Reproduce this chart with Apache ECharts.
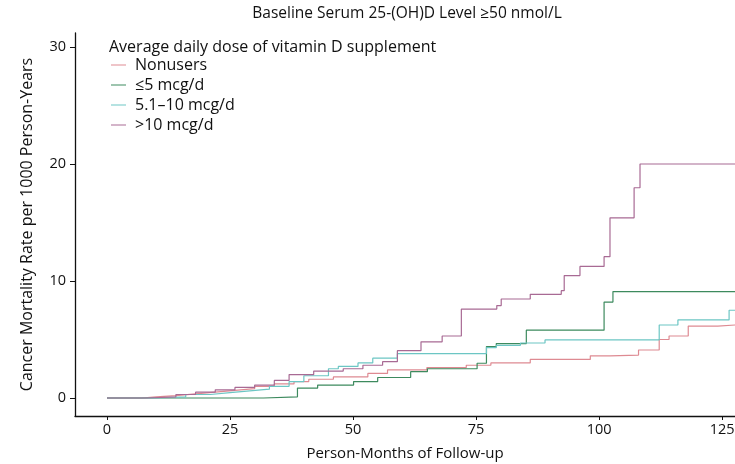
<!DOCTYPE html>
<html>
<head>
<meta charset="utf-8">
<script src="https://cdn.jsdelivr.net/npm/echarts@6/dist/echarts.min.js"></script>
<style>
  html, body { margin: 0; padding: 0; background: #fff; }
  #main { width: 735px; height: 464px; }
</style>
</head>
<body>
<div id="main"></div>
<script>
// months of follow-up, rate per 1000 person-years (step curves)
const nonusers = [[0,0],[7,0.1],[10,0.2],[14,0.35],[18,0.5],[22,0.65],[26,0.8],[30,1.0],[34,1.2],[38,1.4],[41,1.6],[46,1.8],[53,2.1],[57,2.4],[65,2.6],[73,2.8],[78,3.0],[86,3.3],[98.2,3.6],[102.2,3.67],[108,4.1],[112.2,5.0],[114.2,5.3],[118.1,6.15],[124.1,6.3],[130,6.3]];
const le5 = [[0,0],[31.8,0.1],[38.7,0.85],[42.8,1.1],[50.1,1.4],[55,1.75],[61.7,2.25],[65.1,2.5],[75.2,2.97],[77.1,4.4],[79.1,4.65],[85.2,5.8],[101,8.2],[102.8,9.1],[130,9.1]];
const d5to10 = [[0,0],[10,0.1],[16,0.3],[21,0.45],[25,0.6],[29,0.75],[33,1.0],[37,1.4],[40,1.9],[45,2.5],[47,2.7],[51,3.0],[54,3.4],[59,3.8],[77.1,4.3],[79.1,4.5],[84,4.7],[89,4.96],[112.2,6.24],[116,6.67],[126.4,7.5],[130,7.5]];
const gt10 = [[0,0],[8,0.1],[14,0.3],[18,0.5],[22,0.7],[26,0.9],[30,1.1],[34,1.5],[37,2.0],[42,2.3],[48,2.5],[52,2.8],[56,3.1],[59,4.04],[63.8,4.8],[68.1,5.3],[72,7.6],[79.2,7.9],[80.1,8.46],[86,8.86],[92.3,9.17],[92.9,10.46],[96.1,11.25],[101,12.08],[102.2,15.4],[107.1,17.97],[108.3,20.0],[130,20.0]];

const seriesNames = ['Nonusers', '\u22645 mcg/d', '5.1\u201310 mcg/d', '>10 mcg/d'];
const seriesColors = ['#de8a92', '#3d8a5e', '#6cc6c4', '#a86a94'];
const xTicks = [0, 25, 50, 75, 100, 125];
const yTicks = [0, 10, 20, 30];

const font = '"Open Sans", sans-serif';
const chart = echarts.init(document.getElementById('main'));

const mkSeries = (name, data, color) => ({
    name: name,
    type: 'line',
    step: 'end',
    data: data,
    symbol: 'none',
    lineStyle: { color: color, width: 1.2 },
    itemStyle: { color: color },
    animation: false
});

chart.setOption({
    backgroundColor: '#fff',
    title: [
        {
            text: 'Baseline Serum 25-(OH)D Level \u226550 nmol/L',
            left: 402, top: 1, textAlign: 'center',
            textStyle: { fontFamily: font, fontSize: 15.5, fontWeight: 'normal', color: '#111' }
        },
        {
            text: 'Average daily dose of vitamin D supplement',
            left: 104, top: 34,
            textStyle: { fontFamily: font, fontSize: 16, fontWeight: 'normal', color: '#111' }
        }
    ],
    legend: {
        orient: 'vertical',
        left: 106, top: 52,
        itemWidth: 15, itemHeight: 1, itemGap: 4,
        icon: 'rect',
        textStyle: { fontFamily: font, fontSize: 16, color: '#111', padding: [0, 0, 0, 4] },
        data: seriesNames
    },
    grid: { left: 75, right: 0, top: 33, bottom: 48, outerBoundsMode: 'none' },
    xAxis: {
        type: 'value',
        min: -6.5, max: 127.6,
        name: 'Person-Months of Follow-up',
        nameLocation: 'middle', nameGap: 30, nameMoveOverlap: false,
        nameTextStyle: { fontFamily: font, fontSize: 15, color: '#111' },
        axisLine: { onZero: false, lineStyle: { color: '#111', width: 1.3 } },
        axisTick: { show: true, length: 4, customValues: xTicks, lineStyle: { color: '#111' } },
        axisLabel: { customValues: xTicks, fontFamily: font, fontSize: 14.5, color: '#111', margin: 6 },
        splitLine: { show: false }
    },
    yAxis: {
        type: 'value',
        min: -1.54, max: 31.2,
        name: 'Cancer Mortality Rate per 1000 Person-Years',
        nameLocation: 'middle', nameGap: 40, nameRotate: 90,
        nameTextStyle: { fontFamily: font, fontSize: 16, color: '#111' },
        axisLine: { show: true, onZero: false, lineStyle: { color: '#111', width: 1.3 } },
        axisTick: { show: true, length: 5, customValues: yTicks, lineStyle: { color: '#111' } },
        axisLabel: { customValues: yTicks, fontFamily: font, fontSize: 14.5, color: '#111', margin: 9 },
        splitLine: { show: false }
    },
    series: [
        mkSeries(seriesNames[0], nonusers, seriesColors[0]),
        mkSeries(seriesNames[1], le5, seriesColors[1]),
        mkSeries(seriesNames[2], d5to10, seriesColors[2]),
        mkSeries(seriesNames[3], gt10, seriesColors[3])
    ]
});
</script>
</body>
</html>
